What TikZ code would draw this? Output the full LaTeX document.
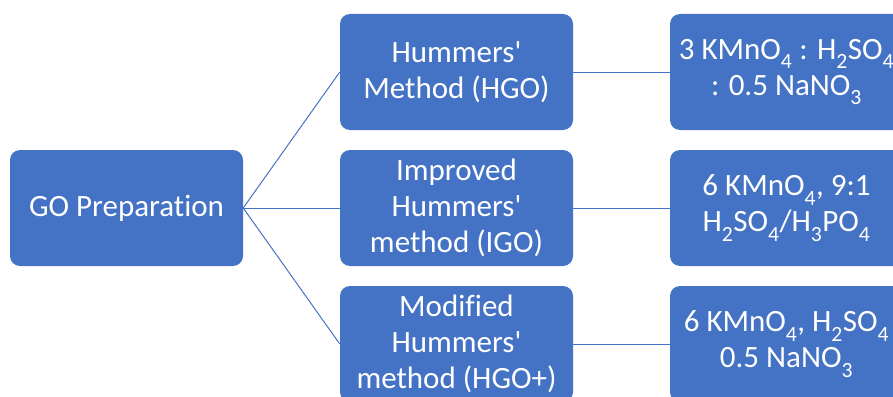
\documentclass[tikz,border=0pt]{standalone}
\usepackage{fontspec}
\setmainfont{Carlito}[Ligatures={NoCommon}]
\definecolor{boxblue}{HTML}{4472C4}
\newcommand{\chemsub}[1]{\raisebox{-0.3ex}{\textsubscript{#1}}}
\newcommand{\apos}{\textquotesingle}
\begin{document}
\begin{tikzpicture}[x=1pt,y=-1pt,
  box/.style={draw=none, fill=boxblue, rounded corners=10pt,
    minimum width=233pt, minimum height=116pt, inner sep=0pt,
    text=white, align=center,
    font=\fontsize{31pt}{36pt}\selectfont},
  link/.style={draw=boxblue, line width=1pt}]
\useasboundingbox (0,0) rectangle (893,396);
\clip (0,0) rectangle (893,396);

% root
\node[box] (go) at (126.5,208) {GO Preparation};

% methods
\node[box] (hgo)  at (456.5,72)  {Hummers\apos\\Method (HGO)};
\node[box] (igo)  at (456.5,208) {Improved\\Hummers\apos\\method (IGO)};
\node[box] (hgop) at (456.5,344) {Modified\\Hummers\apos\\method (HGO+)};

% reagent ratios
\node[box] (r1) at (786.5,72)  {3 KMnO\chemsub{4} : H\chemsub{2}SO\chemsub{4}\\: 0.5 NaNO\chemsub{3}};
\node[box] (r2) at (786.5,208) {6 KMnO\chemsub{4}, 9:1\\H\chemsub{2}SO\chemsub{4}/H\chemsub{3}PO\chemsub{4}};
\node[box] (r3) at (786.5,344) {6 KMnO\chemsub{4}, H\chemsub{2}SO\chemsub{4}\\0.5 NaNO\chemsub{3}};

% connectors
\draw[link] (go.east) -- (hgo.west);
\draw[link] (go.east) -- (igo.west);
\draw[link] (go.east) -- (hgop.west);
\draw[link] (hgo.east) -- (r1.west);
\draw[link] (igo.east) -- (r2.west);
\draw[link] (hgop.east) -- (r3.west);
\end{tikzpicture}
\end{document}
